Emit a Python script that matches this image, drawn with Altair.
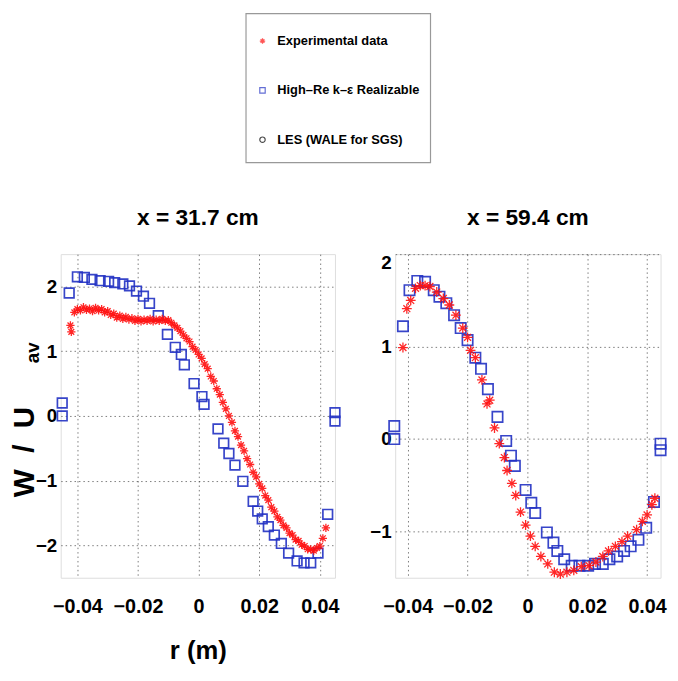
import altair as alt
import pandas as pd

SERIES = ["Experimental data", "High\u2013Re k\u2013\u03b5 Realizable", "LES (WALE for SGS)"]
RED = "#ff1010"
BLUE = "#2231c4"
STAR = "M-1,0H1M0,-1V1M-0.7,-0.7L0.7,0.7M-0.7,0.7L0.7,-0.7"
FONT = "Liberation Sans, Arial, sans-serif"

X_TICKS = [-0.04, -0.02, 0, 0.02, 0.04]
Y_TITLE = "W\u00a0\u00a0/\u00a0\u00a0U"
Y_SUB = "av"
X_TITLE = "r (m)"

# ---- x = 31.7 cm ----
L_EXP_R = [-0.042, -0.041, -0.040, -0.039, -0.038, -0.037, -0.036, -0.035, -0.034, -0.033,
           -0.032, -0.031, -0.030, -0.029, -0.028, -0.027, -0.026, -0.025, -0.024, -0.023,
           -0.022, -0.021, -0.020, -0.019, -0.018, -0.017, -0.016, -0.015, -0.014, -0.013,
           -0.012, -0.011, -0.010, -0.009, -0.008, -0.007, -0.006, -0.005, -0.004, -0.003,
           -0.002, -0.001, 0.000, 0.001, 0.002, 0.003, 0.004, 0.005, 0.006, 0.007,
           0.008, 0.009, 0.010, 0.011, 0.012, 0.013, 0.014, 0.015, 0.016, 0.017,
           0.018, 0.019, 0.020, 0.021, 0.022, 0.023, 0.024, 0.025, 0.026, 0.027,
           0.028, 0.029, 0.030, 0.031, 0.032, 0.033, 0.034, 0.035, 0.036, 0.037,
           0.038, 0.039, 0.040, 0.041, 0.042, -0.0423]
L_EXP_W = [1.30, 1.60, 1.65, 1.63, 1.68, 1.64, 1.66, 1.62, 1.67, 1.63,
           1.65, 1.60, 1.62, 1.56, 1.58, 1.52, 1.55, 1.50, 1.53, 1.49,
           1.51, 1.47, 1.50, 1.46, 1.49, 1.47, 1.50, 1.46, 1.49, 1.47,
           1.50, 1.47, 1.48, 1.44, 1.40, 1.36, 1.31, 1.25, 1.20, 1.15,
           1.07, 1.02, 0.95, 0.89, 0.80, 0.73, 0.61, 0.54, 0.42, 0.33,
           0.21, 0.11, 0.00, -0.10, -0.23, -0.32, -0.45, -0.54, -0.66, -0.75,
           -0.87, -0.94, -1.05, -1.12, -1.23, -1.30, -1.41, -1.47, -1.56, -1.61,
           -1.69, -1.73, -1.81, -1.84, -1.91, -1.93, -1.99, -2.01, -2.06, -2.06,
           -2.08, -2.04, -2.01, -1.89, -1.73, 1.40]
L_SIM_R = [-0.0450, -0.0450, -0.0427, -0.0400, -0.0377, -0.0352, -0.0325, -0.0297, -0.0277, -0.0250,
           -0.0228, -0.0205, -0.0182, -0.0162, -0.0133, -0.0103, -0.0077, -0.0057, -0.0047, -0.0015,
           0.0011, 0.0018, 0.0064, 0.0083, 0.0100, 0.0120, 0.0146, 0.0180, 0.0195, 0.0210,
           0.0230, 0.0250, 0.0273, 0.0297, 0.0325, 0.0348, 0.0370, 0.0394, 0.0426, 0.0450,
           0.0450]
L_SIM_W = [0.20, 0.00, 1.90, 2.15, 2.14, 2.11, 2.09, 2.08, 2.06, 2.04,
           2.01, 1.93, 1.85, 1.74, 1.55, 1.26, 1.06, 0.95, 0.79, 0.50,
           0.30, 0.18, -0.20, -0.42, -0.58, -0.76, -1.01, -1.32, -1.47, -1.59,
           -1.71, -1.84, -1.97, -2.12, -2.24, -2.27, -2.27, -2.12, -1.52, 0.05,
           -0.08]

# ---- x = 59.4 cm ----
R_EXP_R = [-0.0416, -0.0403, -0.0390, -0.0374, -0.0358, -0.0342, -0.0326, -0.0303, -0.0281, -0.0261,
           -0.0239, -0.0216, -0.0200, -0.0190, -0.0174, -0.0152, -0.0135, -0.0126, -0.0110, -0.0094,
           -0.0077, -0.0068, -0.0052, -0.0039, -0.0023, -0.0006, 0.0010, 0.0026, 0.0045, 0.0068,
           0.0090, 0.0110, 0.0132, 0.0155, 0.0180, 0.0206, 0.0229, 0.0252, 0.0271, 0.0294,
           0.0316, 0.0335, 0.0365, 0.0384, 0.0400, 0.0416, 0.0426]
R_EXP_W = [0.99, 1.41, 1.50, 1.63, 1.66, 1.66, 1.65, 1.59, 1.52, 1.45,
           1.34, 1.20, 1.10, 0.96, 0.88, 0.64, 0.38, 0.42, 0.12, -0.05,
           -0.20, -0.34, -0.48, -0.61, -0.79, -0.93, -1.05, -1.16, -1.27, -1.35,
           -1.44, -1.46, -1.44, -1.42, -1.38, -1.37, -1.33, -1.27, -1.21, -1.16,
           -1.11, -1.05, -0.98, -0.89, -0.82, -0.71, -0.64]
R_SIM_R = [-0.0445, -0.0445, -0.0416, -0.0394, -0.0368, -0.0342, -0.0313, -0.0294, -0.0271, -0.0245,
           -0.0223, -0.0200, -0.0174, -0.0155, -0.0132, -0.0100, -0.0071, -0.0055, -0.0042, -0.0006,
           0.0013, 0.0026, 0.0065, 0.0087, 0.0100, 0.0123, 0.0148, 0.0174, 0.0203, 0.0226,
           0.0252, 0.0274, 0.0300, 0.0323, 0.0345, 0.0371, 0.0397, 0.0423, 0.0445, 0.0445]
R_SIM_W = [0.14, 0.00, 1.22, 1.61, 1.71, 1.70, 1.61, 1.54, 1.47, 1.34,
           1.20, 1.07, 0.88, 0.76, 0.54, 0.24, -0.02, -0.18, -0.29, -0.55,
           -0.69, -0.80, -1.01, -1.12, -1.21, -1.30, -1.37, -1.37, -1.37, -1.35,
           -1.35, -1.30, -1.27, -1.21, -1.16, -1.09, -0.96, -0.68, -0.05, -0.12]

color_scale = alt.Scale(domain=SERIES, range=[RED, BLUE, "#000000"])
shape_scale = alt.Scale(domain=SERIES, range=[STAR, "square", "circle"])


def panel(exp_r, exp_w, sim_r, sim_w, title, xdom, ydom, yticks, w, h,
          star_size, sq_size, show_titles):
    # both panels carry the same axis titles so that they are laid out alike;
    # the right-hand panel keeps them transparent
    op = 1 if show_titles else 0
    df = pd.concat([
        pd.DataFrame({"r": exp_r, "w": exp_w, "series": SERIES[0]}),
        pd.DataFrame({"r": sim_r, "w": sim_w, "series": SERIES[1]}),
    ])
    xaxis = alt.Axis(values=X_TICKS, format=".2~f", ticks=False, domain=False,
                     labelFont=FONT, labelFontSize=20, labelFontWeight="bold",
                     labelColor="black", labelPadding=19,
                     grid=True, gridColor="#444444", gridDash=[1.5, 3], gridOpacity=0.7,
                     title=X_TITLE, titleFont=FONT, titleFontSize=26, titleFontWeight="bold",
                     titleColor="black", titleOpacity=op, titleY=82, titleBaseline="alphabetic")
    yaxis = alt.Axis(values=yticks, format="d", ticks=False, domain=False, labelFlush=True,
                     labelFont=FONT, labelFontSize=19, labelFontWeight="bold",
                     labelColor="black", labelPadding=4,
                     grid=True, gridColor="#444444", gridDash=[1.5, 3], gridOpacity=0.7,
                     title=Y_TITLE, titleFont=FONT, titleFontSize=30, titleFontWeight="bold",
                     titleColor="black", titleOpacity=op, titleAngle=270, titleX=-28, titleY=200,
                     titleAlign="center", titleBaseline="alphabetic")

    base = alt.Chart(df)
    enc = dict(
        x=alt.X("r:Q", scale=alt.Scale(domain=xdom, nice=False, zero=False), axis=xaxis),
        y=alt.Y("w:Q", scale=alt.Scale(domain=ydom, nice=False, zero=False), axis=yaxis),
        color=alt.Color("series:N", scale=color_scale, legend=None),
        shape=alt.Shape("series:N", scale=shape_scale, legend=None),
    )
    exp = base.mark_point(filled=False, size=star_size, strokeWidth=1.3, opacity=0.9).encode(**enc).transform_filter(
        alt.datum.series == SERIES[0])
    sim = base.mark_point(filled=False, size=sq_size, strokeWidth=1.7, opacity=0.9).encode(**enc).transform_filter(
        alt.datum.series == SERIES[1])
    sub = alt.Chart(pd.DataFrame({"t": [Y_SUB]})).mark_text(
        angle=270, font=FONT, fontSize=19, fontWeight="bold", color="black", opacity=op,
        align="center", baseline="alphabetic").encode(
        x=alt.value(-22), y=alt.value(100), text="t:N")
    return alt.layer(sim, exp, sub).properties(
        width=w, height=h,
        title=alt.TitleParams(title, font=FONT, fontSize=23, fontWeight="bold", color="black",
                              anchor="middle", frame="group", offset=6.5, baseline="alphabetic"),
    )


left = panel(L_EXP_R, L_EXP_W, L_SIM_R, L_SIM_W, "x = 31.7 cm", [-0.0455, 0.045], [-2.5, 2.5],
             [-2, -1, 0, 1, 2], 278, 328, 70, 95, True)
right = panel(R_EXP_R, R_EXP_W, R_SIM_R, R_SIM_W, "x = 59.4 cm", [-0.0442, 0.0445], [-1.5, 2],
              [-1, 0, 1, 2], 269, 328, 100, 110, False)

# legend box, drawn from the series list
leg_df = pd.DataFrame({"series": SERIES})
leg_y = alt.Y("series:N", scale=alt.Scale(domain=SERIES, range=[28, 128], padding=0), axis=None)
leg_sym = alt.Chart(leg_df).mark_point(filled=False, size=30, strokeWidth=1.2).encode(
    x=alt.value(17), y=leg_y,
    color=alt.Color("series:N", scale=color_scale, legend=None),
    shape=alt.Shape("series:N", scale=shape_scale, legend=None),
)
leg_txt = alt.Chart(leg_df).mark_text(
    align="left", baseline="middle", font=FONT, fontSize=13, fontWeight="bold", color="black"
).encode(x=alt.value(32), y=leg_y, text="series:N")
# invisible spacer that shifts the centred legend box to the left
leg_pad = alt.Chart(leg_df.head(1)).mark_point(opacity=0, size=1).encode(
    x=alt.value(241), y=alt.value(75))
legend = alt.layer(leg_sym, leg_txt, leg_pad).properties(
    width=187, height=151, view=alt.ViewBackground(stroke="#999999", strokeWidth=1.2, fill="white"))

panels = alt.hconcat(left, right, spacing=61, bounds="flush").resolve_scale(
    x="independent", y="independent")

chart = alt.vconcat(legend, panels, spacing=44, center=True).resolve_scale(
    x="independent", y="independent"
).properties(
    padding={"left": 0, "top": 0, "right": 0, "bottom": 0},
).configure_view(stroke="#333333", strokeWidth=1.2).configure(background="white")

chart.save("out.html", embed_options={"renderer": "svg", "actions": False})
